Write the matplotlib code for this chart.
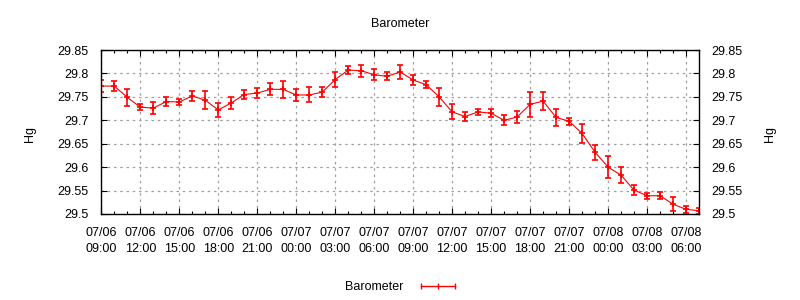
import matplotlib
matplotlib.use("Agg")
import matplotlib.pyplot as plt
import matplotlib.dates as mdates
from matplotlib.lines import Line2D
from matplotlib.ticker import FuncFormatter, MultipleLocator
import pandas as pd

plt.rcParams['font.family'] = ['Liberation Sans', 'DejaVu Sans']

# hourly readings, 07/06 09:00 .. 07/08 07:00
times = pd.date_range('2024-07-06 09:00', periods=47, freq='h')

pressure = [29.773, 29.773, 29.749, 29.728, 29.726, 29.740, 29.739, 29.752,
            29.743, 29.722, 29.737, 29.755, 29.758, 29.766, 29.766, 29.754,
            29.754, 29.760, 29.787, 29.807, 29.806, 29.797, 29.794, 29.803,
            29.786, 29.776, 29.750, 29.718, 29.708, 29.718, 29.715, 29.700,
            29.707, 29.734, 29.741, 29.706, 29.698, 29.672, 29.632, 29.600,
            29.583, 29.551, 29.539, 29.539, 29.521, 29.510, 29.507]

pressure_err = [0.013, 0.010, 0.018, 0.006, 0.012, 0.010, 0.007, 0.011,
                0.019, 0.015, 0.013, 0.009, 0.011, 0.013, 0.018, 0.013,
                0.016, 0.010, 0.016, 0.009, 0.013, 0.012, 0.009, 0.015,
                0.010, 0.007, 0.019, 0.016, 0.010, 0.006, 0.009, 0.011,
                0.013, 0.027, 0.019, 0.018, 0.007, 0.020, 0.016, 0.023,
                0.017, 0.010, 0.006, 0.007, 0.015, 0.007, 0.006]

red = '#ff0000'

fig = plt.figure(figsize=(8, 3), dpi=100)
ax = fig.add_axes([101.3 / 800, 86 / 300, 597.7 / 800, 164 / 300])

ax.errorbar(times, pressure, yerr=pressure_err, color=red, lw=0.8,
            elinewidth=1.2, capsize=2.4, capthick=1.2,
            marker='+', markersize=5, markeredgewidth=1.2)

ax.set_xlim(pd.Timestamp('2024-07-06 09:00'), pd.Timestamp('2024-07-08 07:00'))
ax.set_ylim(29.5, 29.85)

ax.xaxis.set_major_locator(mdates.HourLocator(byhour=range(0, 24, 3)))
ax.xaxis.set_minor_locator(mdates.HourLocator())
ax.xaxis.set_major_formatter(mdates.DateFormatter('%m/%d\n%H:%M'))
ax.yaxis.set_major_locator(MultipleLocator(0.05))
ax.yaxis.set_major_formatter(FuncFormatter(lambda v, p: '{:g}'.format(round(v, 2))))

ax.tick_params(which='both', direction='in', top=True, right=True,
               labelright=True, labelsize=9, width=0.8)
ax.tick_params(which='major', length=4.5)
ax.tick_params(which='minor', length=2.5)
ax.tick_params(axis='x', pad=9)
ax.tick_params(axis='y', pad=9)
for lbl in ax.get_xticklabels():
    lbl.set_linespacing(1.45)

ax.grid(True, which='major', color='#a0a0a0', linestyle=(0, (2, 3)), lw=0.9)
for s in ax.spines.values():
    s.set_linewidth(1.0)

fig.text(0.5, 0.92, 'Barometer', ha='center', va='center', fontsize=9)
fig.text(30 / 800, 1 - 134 / 300, 'Hg', rotation=90, ha='center', va='center', fontsize=9)
fig.text(770 / 800, 1 - 134 / 300, 'Hg', rotation=90, ha='center', va='center', fontsize=9)

handle = Line2D([], [], color=red, lw=1.0, marker='|', markersize=5, markeredgewidth=1.0)
fig.legend([handle], ['Barometer'], loc='center', bbox_to_anchor=(402 / 800, 1 - 287.5 / 300),
           frameon=False, fontsize=9, markerfirst=False, numpoints=3,
           handlelength=3.3, handletextpad=1.1)

fig.savefig('out.png', dpi=100)
